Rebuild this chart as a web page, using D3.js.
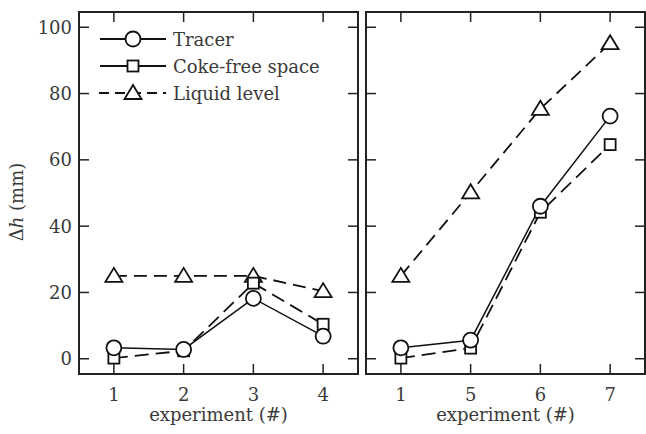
<!DOCTYPE html>
<html><head><meta charset="utf-8">
<script src="https://cdn.jsdelivr.net/npm/d3@7"></script>
<style>body{margin:0;background:#fff}svg{display:block}</style>
</head><body><svg id="c" width="646" height="434"></svg>
<script>
const leftCategories = ["1","2","3","4"];
const rightCategories = ["1","5","6","7"];
const leftTracer = [3.3, 2.8, 18.2, 6.8];
const leftCoke = [0.2, 2.4, 22.8, 10.4];
const leftLiquid = [25, 25, 25, 20.4];
const rightTracer = [3.3, 5.6, 46, 73.2];
const rightCoke = [0.2, 3.2, 44.2, 64.6];
const rightLiquid = [25, 50.2, 75.4, 95.2];
const yTicks = [0, 20, 40, 60, 80, 100];
const seriesNames = ["Tracer", "Coke-free space", "Liquid level"];

const FONT = "'DejaVu Serif', serif";
const FS = 18;
const svg = d3.select("#c");
const plotTop = 12, plotBottom = 374;
const y = d3.scaleLinear().domain([-4.6, 104.6]).range([plotBottom, plotTop]);

function txt(g) { return g.append("text").attr("font-family", FONT).attr("font-size", FS).attr("fill", "#3a3a3a"); }

function marker(g, type, cx, cy) {
  if (type === "circle") g.append("circle").attr("cx", cx).attr("cy", cy).attr("r", 7.5)
    .attr("fill", "#fff").attr("stroke", "#111").attr("stroke-width", 1.8);
  else if (type === "square") g.append("rect").attr("x", cx - 5.5).attr("y", cy - 5.5).attr("width", 11).attr("height", 11)
    .attr("fill", "#fff").attr("stroke", "#111").attr("stroke-width", 1.8);
  else g.append("path").attr("d", `M${cx},${cy-8}L${cx+8.5},${cy+6}L${cx-8.5},${cy+6}Z`)
    .attr("fill", "#fff").attr("stroke", "#111").attr("stroke-width", 1.8).attr("stroke-linejoin", "miter");
}

function panel(x0, x1, cats, tr, co, li, showY, showLegend) {
  const g = svg.append("g");
  const x = d3.scalePoint().domain(cats).range([x0, x1]).padding(0.5);
  const tl = 10;
  cats.forEach(c => {
    g.append("line").attr("x1", x(c)).attr("x2", x(c)).attr("y1", plotBottom).attr("y2", plotBottom - tl).attr("stroke", "#222").attr("stroke-width", 1.5);
    g.append("line").attr("x1", x(c)).attr("x2", x(c)).attr("y1", plotTop).attr("y2", plotTop + tl).attr("stroke", "#222").attr("stroke-width", 1.5);
    txt(g).attr("x", x(c)).attr("y", 401).attr("text-anchor", "middle").text(c);
  });
  yTicks.forEach(v => {
    g.append("line").attr("x1", x0).attr("x2", x0 + tl).attr("y1", y(v)).attr("y2", y(v)).attr("stroke", "#222").attr("stroke-width", 1.5);
    g.append("line").attr("x1", x1).attr("x2", x1 - tl).attr("y1", y(v)).attr("y2", y(v)).attr("stroke", "#222").attr("stroke-width", 1.5);
    if (showY) txt(g).attr("x", x0 - 7).attr("y", y(v) + 6.5).attr("text-anchor", "end").text(v);
  });
  txt(g).attr("x", (x0 + x1) / 2).attr("y", 421).attr("text-anchor", "middle").text("experiment (#)");
  const line = d3.line().x((d, i) => x(cats[i])).y(d => y(d));
  g.append("path").attr("d", line(li)).attr("fill", "none").attr("stroke", "#111").attr("stroke-width", 1.8).attr("stroke-dasharray", "13,7");
  g.append("path").attr("d", line(co)).attr("fill", "none").attr("stroke", "#111").attr("stroke-width", 1.8).attr("stroke-dasharray", "14,7");
  g.append("path").attr("d", line(tr)).attr("fill", "none").attr("stroke", "#111").attr("stroke-width", 1.5);
  li.forEach((v, i) => marker(g, "tri", x(cats[i]), y(v)));
  co.forEach((v, i) => marker(g, "square", x(cats[i]), y(v)));
  tr.forEach((v, i) => marker(g, "circle", x(cats[i]), y(v)));
  g.append("rect").attr("x", x0).attr("y", plotTop).attr("width", x1 - x0).attr("height", plotBottom - plotTop)
    .attr("fill", "none").attr("stroke", "#222").attr("stroke-width", 2);
  if (showLegend) {
    const types = ["circle", "square", "tri"];
    seriesNames.forEach((n, i) => {
      const ly = 39 + i * 27;
      const ln = g.append("line").attr("x1", 100).attr("x2", 166).attr("y1", ly).attr("y2", ly).attr("stroke", "#111").attr("stroke-width", 1.8);
      if (i === 2) ln.attr("stroke-dasharray", "10,6").attr("x1", 99);
      marker(g, types[i], 133, ly);
      txt(g).attr("x", 173).attr("y", ly + 6.5).text(n);
    });
  }
}
panel(79, 358, leftCategories, leftTracer, leftCoke, leftLiquid, true, true);
panel(366, 645, rightCategories, rightTracer, rightCoke, rightLiquid, false, false);

const yl = txt(svg).attr("transform", "translate(23,202) rotate(-90)").attr("text-anchor", "middle");
yl.append("tspan").text("Δ");
yl.append("tspan").attr("font-style", "italic").text("h");
yl.append("tspan").text(" (mm)");
</script></body></html>
